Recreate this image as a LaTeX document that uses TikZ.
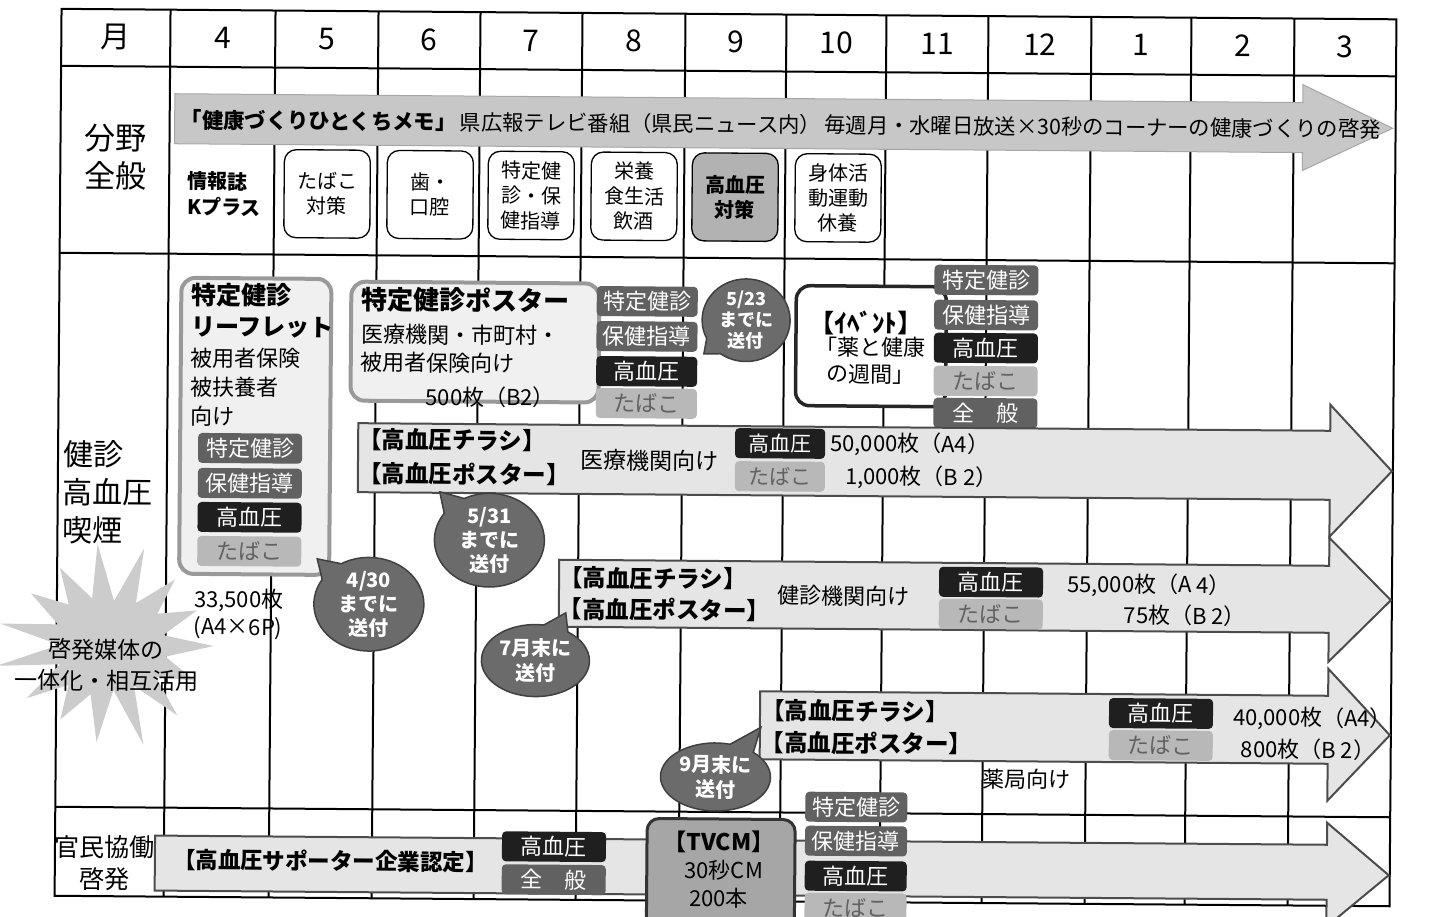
\documentclass[tikz,border=0pt]{standalone}
\usepackage{fontspec}
\setmainfont{Noto Sans CJK JP}
\usetikzlibrary{shapes.callouts}
\newcommand\FS[1]{\fontsize{#1}{#1}\selectfont}
\begin{document}
\begin{tikzpicture}[x=1pt,y=-1pt,
  gridline/.style={line width=2pt},
  tw/.style={inner sep=0pt,anchor=west},
  tc/.style={inner sep=0pt},
  tagbase/.style={rounded corners=4pt,inner sep=0pt,minimum width=104pt,minimum height=30pt,font=\FS{22},text=white},
  tgd/.style={tagbase,fill=black!62},
  tgk/.style={tagbase,fill=black!88},
  tgl/.style={tagbase,fill=black!28,text=black!62},
  cbox/.style={draw,line width=1.3pt,rounded corners=12pt,minimum width=86pt,minimum height=88pt,inner sep=0pt,font=\fontsize{20}{25}\selectfont,align=center,fill=white},
  bub/.style={ellipse callout,fill=black!58,draw=black!75,line width=1.5pt,text=white,font=\bfseries\fontsize{18}{21}\selectfont,align=center,inner sep=0pt,callout pointer arc=28},
  bigarrow/.style={fill=black!10,draw=black!70,line width=2pt},
  toparrow/.style={fill=black!22,draw=black!35,line width=1pt},
  pbox/.style={draw=black!40,line width=4pt,fill=black!6,rounded corners=14pt,inner sep=0pt},
  bold/.style={font=\bfseries\FS{#1}},
  reg/.style={font=\FS{#1}}
]
\useasboundingbox (0,0) rectangle (1443,916);
\begin{scope}[rotate around={-0.45:(720,460)},transform shape]
% grid
\foreach \x in {167,272,375,477,579,682,783,883,985,1088,1188,1291}
  \draw[gridline] (\x,14) -- (\x,901);
\foreach \y in {71,258,812}
  \draw[gridline] (58,\y) -- (1393,\y);
\draw[gridline] (58,14) rectangle (1393,901);
% header
\node[reg=30] (hM) at (112.5,42) {月};
\foreach \m/\x in {4/219.5,5/323.5,6/426,7/528,8/630.5,9/732.5,10/833,11/934,12/1036.5,1/1138,2/1239.5,3/1342}
  \node[reg=30] (h\m) at (\x,42) {\m};
% row labels
\node[font=\fontsize{31}{38}\selectfont,align=center,inner sep=0pt] (r1) at (113,162) {分野\\全般};
\node[font=\fontsize{30}{38}\selectfont,align=left,inner sep=0pt,anchor=west] (r2) at (63,497) {健診\\高血圧\\喫煙};
\node[font=\fontsize{25}{32}\selectfont,align=center,inner sep=0pt] (r3) at (108,868) {官民協働\\啓発};
% top arrow
\draw[toparrow] (172,98) -- (1300,98) -- (1300,80) -- (1390,123) -- (1300,166) -- (1300,148) -- (172,148) -- cycle;
\node[tw,reg=21.3] (memo) at (178,124) {{\bfseries 「健康づくりひとくちメモ」}\,県広報テレビ番組（県民ニュース内）\,毎週月・水曜日放送×30秒のコーナーの健康づくりの啓発};
% media boxes
\node[tw,font=\bfseries\fontsize{20}{26}\selectfont,align=left] (kplus) at (185,198) {情報誌\\Kプラス};
\node[cbox] (c1) at (325,197) {たばこ\\対策};
\node[cbox] (c2) at (428,197) {歯・\\口腔};
\node[cbox] (c3) at (529,197) {特定健\\診・保\\健指導};
\node[cbox] (c4) at (632,197) {栄養\\食生活\\飲酒};
\node[cbox,fill=black!30,font=\bfseries\fontsize{20}{25}\selectfont] (c5) at (733,197) {高血圧\\対策};
\node[cbox] (c6) at (836,197) {身体活\\動運動\\休養};
% starburst
\coordinate (burstc) at (110,650);
\fill[black!20] (215,650)
  \foreach \i [evaluate=\i as \ang using \i*360/30,
               evaluate=\i as \rr using {mod(\i,2)==0 ? 1 : 0.52},
               evaluate=\i as \jit using {1+0.1*sin(\i*137)}] in {1,...,29}
  { -- ({110+105*\rr*\jit*cos(\ang)},{650+95*\rr*\jit*sin(\ang)}) } -- cycle;
\node[tc,align=center,font=\fontsize{23}{31}\selectfont] (bursttext) at (108,670) {啓発媒体の\\一体化・相互活用};
% leaflet box
\node[pbox,minimum width=150pt,minimum height=296pt] (leaf) at (255,430) {};
\node[tw,bold=25] (lf1) at (190,299) {特定健診};
\node[tw,bold=24] (lf2) at (190,331) {リーフレット};
\node[tw,reg=22] (lf3) at (190,362) {被用者保険};
\node[tw,reg=22] (lf4) at (190,391) {被扶養者};
\node[tw,reg=22] (lf5) at (190,420) {向け};
\node[tgd] (lt1) at (250,452) {特定健診};
\node[tgd] (lt2) at (250,487) {保健指導};
\node[tgk] (lt3) at (250,521) {高血圧};
\node[tgl] (lt4) at (250,555) {たばこ};
\node[tw,reg=22] (lq1) at (195,604) {33,500枚};
\node[tw,reg=22] (lq2) at (195,632) {(A4×6P)};
% poster box
\node[pbox,minimum width=248pt,minimum height=119pt] (pst) at (474,344) {};
\node[tw,bold=26] (ps1) at (360,302) {特定健診ポスター};
\node[tw,reg=22] (ps2) at (360,337) {医療機関・市町村・};
\node[tw,reg=22] (ps3) at (360,365) {被用者保険向け};
\node[tw,reg=22] (ps4) at (425,399) {500枚（B2）};
\node[tgd,minimum width=101pt] (pt1) at (646,302) {特定健診};
\node[tgd,minimum width=101pt] (pt2) at (646,337) {保健指導};
\node[tgk,minimum width=101pt] (pt3) at (646,372) {高血圧};
\node[tgl,minimum width=101pt] (pt4) at (646,404) {たばこ};
% event box
\node[draw=black!85,line width=3.5pt,rounded corners=14pt,fill=white,minimum width=150pt,minimum height=120pt] (evt) at (870,345) {};
\node[tc,bold=25] (ev1) at (865,322) {【ｲﾍﾞﾝﾄ】};
\node[tc,reg=22] (ev2) at (870,346) {「薬と健康};
\node[tc,reg=22] (ev3) at (870,373) {の週間」};
\node[tgd] (et1) at (985,278) {特定健診};
\node[tgd] (et2) at (985,313) {保健指導};
\node[tgk] (et3) at (985,346) {高血圧};
\node[tgl] (et4) at (985,379) {たばこ};
\node[tgd] (et5) at (985,411) {全　般};
% arrow 1
\draw[bigarrow] (358,426) -- (1330,426) -- (1330,400) -- (1392,466) -- (1330,532) -- (1330,495) -- (358,495) -- cycle;
\node[tw,bold=23.5] (a1a) at (358,442) {【高血圧チラシ】};
\node[tw,bold=23.5] (a1b) at (358,476) {【高血圧ポスター】};
\node[tw,reg=23] (a1c) at (580,461) {医療機関向け};
\node[tgk,minimum width=90pt,font=\FS{21}] (a1t1) at (780,443) {高血圧};
\node[tgl,minimum width=90pt,font=\FS{21}] (a1t2) at (780,476) {たばこ};
\node[tw,reg=22] (a1q1) at (830,443) {50,000枚（A4）};
\node[tw,reg=22] (a1q2) at (845,476) {1,000枚（B 2）};
% arrow 2
\draw[bigarrow] (560,561) -- (1330,561) -- (1330,533) -- (1392,595) -- (1330,657) -- (1330,628) -- (560,628) -- cycle;
\node[tw,bold=23.5] (a2a) at (560,579) {【高血圧チラシ】};
\node[tw,bold=23.5] (a2b) at (560,610) {【高血圧ポスター】};
\node[tw,reg=22] (a2c) at (778,595) {健診機関向け};
\node[tgk] (a2t1) at (992,580) {高血圧};
\node[tgl] (a2t2) at (992,612) {たばこ};
\node[tw,reg=22] (a2q1) at (1068,582) {55,000枚（A 4）};
\node[tw,reg=22] (a2q2) at (1125,612) {75枚（B 2）};
% arrow 3
\draw[bigarrow] (762,691) -- (1330,691) -- (1330,664) -- (1392,730) -- (1330,796) -- (1330,759) -- (762,759) -- cycle;
\node[tw,bold=23.5] (a3a) at (763,710) {【高血圧チラシ】};
\node[tw,bold=23.5] (a3b) at (763,742) {【高血圧ポスター】};
\node[tgk] (a3t1) at (1163,710) {高血圧};
\node[tgl] (a3t2) at (1163,742) {たばこ};
\node[tw,reg=22] (a3q1) at (1235,714) {40,000枚（A4）};
\node[tw,reg=22] (a3q2) at (1243,745) {800枚（B 2）};
\node[tw,reg=22] (a3c) at (985,777) {薬局向け};
% bottom arrow
\draw[bigarrow] (158,840) -- (1330,840) -- (1330,818) -- (1392,870) -- (1330,922) -- (1330,895) -- (158,895) -- cycle;
\node[tw,bold=22.5] (a4a) at (176,864) {【高血圧サポーター企業認定】};
\node[tgk] (a4t1) at (557,848) {高血圧};
\node[tgd] (a4t2) at (557,881) {全　般};
% TVCM
\node[fill=black!35,draw=black!80,line width=3pt,rounded corners=12pt,minimum width=148pt,minimum height=112pt] (tv) at (724,875) {};
\node[tc,bold=23] (tv1) at (722,842) {【TVCM】};
\node[tc,reg=22] (tv2) at (727,870) {30秒CM};
\node[tc,reg=22] (tv3) at (722,898) {200本};
\node[tgd,minimum width=102pt] (tt1) at (859,806) {特定健診};
\node[tgd,minimum width=102pt] (tt2) at (859,840) {保健指導};
\node[tgk,minimum width=102pt] (tt3) at (859,875) {高血圧};
\node[tgl,minimum width=102pt] (tt4) at (859,907) {たばこ};
% bubbles
\node[bub,minimum width=88pt,minimum height=76pt,callout absolute pointer={(703,354)}] (b523) at (745,320) {5/23\\までに\\送付};
\node[bub,minimum width=110pt,minimum height=84pt,callout absolute pointer={(440,494)},font=\bfseries\fontsize{20}{24}\selectfont] (b531) at (490,542) {5/31\\までに\\送付};
\node[bub,minimum width=110pt,minimum height=86pt,callout absolute pointer={(318,562)},font=\bfseries\fontsize{20}{24}\selectfont] (b430) at (370,607) {4/30\\までに\\送付};
\node[bub,minimum width=108pt,minimum height=72pt,callout absolute pointer={(567,614)},font=\bfseries\fontsize{20}{25}\selectfont] (b7) at (537,662) {7月末に\\送付};
\node[bub,minimum width=110pt,minimum height=68pt,callout absolute pointer={(763,727)},font=\bfseries\fontsize{20}{25}\selectfont] (b9) at (718,777) {9月末に\\送付};
\end{scope}
\end{tikzpicture}
\end{document}
